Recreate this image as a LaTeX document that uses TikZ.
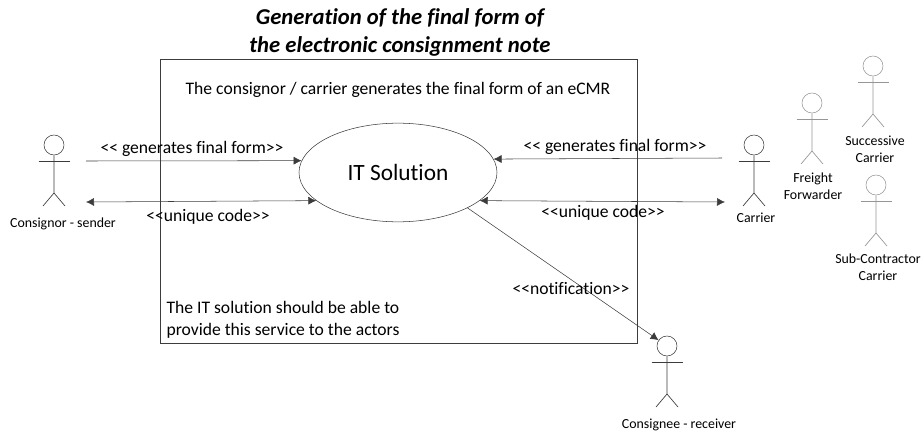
\documentclass[tikz,border=0pt]{standalone}
\usepackage{fontspec}
\usetikzlibrary{shapes.geometric,arrows.meta}
\setmainfont[Ligatures=NoCommon]{Carlito}
\definecolor{gcol}{RGB}{150,150,150}
\definecolor{lcol}{RGB}{60,60,60}
\tikzset{every picture/.style={x=.75pt,y=-.75pt}}
\tikzset{edge/.style={lcol,-{Latex[length=6pt,width=6pt]}}}
\tikzset{twoway/.style={lcol,{Latex[length=6pt,width=6pt]}-{Latex[length=6pt,width=6pt]}}}
\tikzset{limb/.style={line width=.5pt}}
\tikzset{head/.style={circle,draw,inner sep=0pt,minimum size=15pt}}
\tikzset{lab/.style={font=\fontsize{13.2}{16.5}\selectfont,inner sep=0pt}}
\tikzset{small/.style={font=\fontsize{10.4}{13}\selectfont,inner sep=0pt,align=center}}
% name, x and y of the head, colour
\newcommand{\actor}[4]{
\node [head,#4] (#1) at (#2,#3) {};
\draw [limb,#4] (#2-15.5,#3+16) -- (#2+15.5,#3+16);
\draw [limb,#4] (#1.south) -- (#2,#3+48) -- (#2-11,#3+61);
\draw [limb,#4] (#2,#3+48) -- (#2+11,#3+61);
}

\begin{document}
\begin{tikzpicture}
\useasboundingbox (0,0) rectangle (922,432);

\node [draw=lcol,minimum width=358pt,minimum height=213pt,inner sep=0pt] (system) at (398.5,201) {};
\node [draw=lcol,ellipse,minimum width=148.5pt,minimum height=74pt,inner sep=0pt,font=\fontsize{17.5}{21}\selectfont] (solution) at (398,172.5) {IT Solution};

\node [inner sep=0pt,align=center,font=\fontsize{17}{21}\bfseries\itshape\selectfont] (title) at (400,32) {Generation of the final form of\\the electronic consignment note};
\node [lab] (intro) at (398,90) {The consignor / carrier generates the final form of an eCMR};
\node [lab,align=left] (note) at (283,320) {The IT solution should be able to\\provide this service to the actors};

\actor{sender}{54}{145}{lcol}
\actor{carrier}{754}{145}{lcol}
\actor{receiver}{667}{346}{lcol}
\actor{forwarder}{812}{103}{gcol}
\actor{successive}{873}{66}{gcol}
\actor{subcontractor}{876}{185}{gcol}

\node [small] (sendername) at (63,224) {Consignor - sender};
\node [small] (carriername) at (756,218) {Carrier};
\node [small] (receivername) at (679,425) {Consignee - receiver};
\node [small] (forwardername) at (813,186) {Freight\\Forwarder};
\node [small] (successivename) at (875,149) {Successive\\Carrier};
\node [small] (subname) at (878,267) {Sub-Contractor\\Carrier};

\coordinate (s1) at (86,161);
\coordinate (s2) at (86,202);
\coordinate (c1) at (722,158);
\coordinate (c2) at (725,202);

\draw [edge] (s1) -- (solution.173.4);
\draw [twoway] (s2) -- (solution.199.6);
\draw [edge] (c1) -- (solution.8.7);
\draw [twoway] (c2) -- (solution.-19.6);
\draw [edge] (solution.-27.2) -- (receiver);

\node [lab] (gen1) at (192,149) {<{}< generates final form>{}>};
\node [lab] (code1) at (208,217) {<{}<unique code>{}>};
\node [lab] (gen2) at (615,147) {<{}< generates final form>{}>};
\node [lab] (code2) at (603,213) {<{}<unique code>{}>};
\node [lab] (notif) at (571,289) {<{}<notification>{}>};
\end{tikzpicture}
\end{document}
